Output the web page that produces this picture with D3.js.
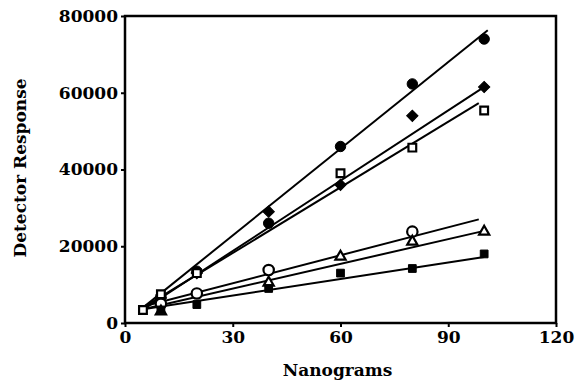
<!DOCTYPE html>
<html>
<head>
<meta charset="utf-8">
<script src="https://cdn.jsdelivr.net/npm/d3@7"></script>
<style>
  body { margin: 0; background: #fff; }
  text { font-family: "DejaVu Serif", serif; font-weight: bold; fill: #000; }
</style>
</head>
<body>
<svg id="chart"></svg>
<script>
const WIDTH = 577;
const HEIGHT = 381;
const PADDING_LEFT = 125; //room for y labels + title
const PADDING_TOP = 16;
const GRAPH_WIDTH = 431; //0..120
const GRAPH_HEIGHT = 307; //0..80000

// data
const nanograms = [5, 10, 20, 40, 60, 80, 100];
const filledCircle = [null, 7000, 13500, 26000, 46000, 62300, 74000];
const filledDiamond = [null, 6500, 13000, 29000, 36000, 54000, 61500];
const openSquare = [3400, 7500, 13000, null, 39000, 45700, 55400];
const openCircle = [null, 5000, 7700, 13800, null, 23800, null];
const openTriangle = [null, 3000, null, 10500, 17300, 21200, 23800];
const filledSquare = [null, 3400, 4800, 9000, 13000, 14200, 18000];

// fitted lines, [x, y] end points
const fitCircle = [[5, 4000], [101, 76300]];
const fitDiamond = [[5, 3500], [99.5, 61200]];
const fitSquare = [[5, 4000], [98.5, 57300]];
const fitOpenCircle = [[5, 4300], [98.5, 27000]];
const fitTriangle = [[5, 3600], [100, 24000]];
const fitFilledSquare = [[5, 3600], [100, 17200]];

const xTicks = [0, 30, 60, 90, 120];
const yTicks = [0, 20000, 40000, 60000, 80000];

const series = [
  {vals: filledCircle, fit: fitCircle, shape: "circle", filled: true},
  {vals: filledDiamond, fit: fitDiamond, shape: "diamond", filled: true},
  {vals: openSquare, fit: fitSquare, shape: "square", filled: false},
  {vals: openCircle, fit: fitOpenCircle, shape: "circle", filled: false},
  {vals: openTriangle, fit: fitTriangle, shape: "triangle", filled: false},
  {vals: filledSquare, fit: fitFilledSquare, shape: "square", filled: true}
];

var xScale = d3.scaleLinear().domain([0, 120]).range([0, GRAPH_WIDTH]);
var yScale = d3.scaleLinear().domain([0, 80000]).range([GRAPH_HEIGHT, 0]);

var svg = d3.select("#chart").attr("width", WIDTH).attr("height", HEIGHT);
var g = svg.append("g").attr("transform", "translate(" + PADDING_LEFT + "," + PADDING_TOP + ")");

// frame
g.append("rect")
  .attr("width", GRAPH_WIDTH).attr("height", GRAPH_HEIGHT)
  .attr("fill", "none").attr("stroke", "#000").attr("stroke-width", 2.5);

var xAxis = d3.axisBottom(xScale).tickValues(xTicks).tickSize(4).tickPadding(4);
var yAxis = d3.axisLeft(yScale).tickValues(yTicks).tickSize(4).tickPadding(3).tickFormat(d3.format("d"));

var gx = g.append("g").attr("transform", "translate(0," + GRAPH_HEIGHT + ")").call(xAxis);
var gy = g.append("g").call(yAxis);
[gx, gy].forEach(a => {
  a.select(".domain").remove();
  a.selectAll("line").attr("stroke", "#000").attr("stroke-width", 2);
  a.selectAll("text").style("font-size", "17px").style("font-family", "DejaVu Serif").style("font-weight", "bold");
});

// fit lines
var line = d3.line().x(d => xScale(d[0])).y(d => yScale(d[1]));
g.selectAll(".fit")
  .data(series)
  .enter().append("path")
  .attr("class", "fit")
  .attr("d", d => line(d.fit))
  .attr("fill", "none").attr("stroke", "#000").attr("stroke-width", 2);

// markers (diamond = square turned 45deg, like the original)
var symbolType = {circle: d3.symbolCircle, diamond: d3.symbolSquare, square: d3.symbolSquare, triangle: d3.symbolTriangle};
var symbolSize = {circle: 85, diamond: 64, square: 60, triangle: 45};
series.forEach(s => {
  var pts = nanograms.map((x, i) => [x, s.vals[i]]).filter(p => p[1] != null);
  g.selectAll(null)
    .data(pts)
    .enter().append("path")
    .attr("transform", d => "translate(" + xScale(d[0]) + "," + yScale(d[1]) + ")" + (s.shape == "diamond" ? " rotate(45)" : ""))
    .attr("d", d3.symbol().type(symbolType[s.shape]).size(symbolSize[s.shape]))
    .attr("fill", s.filled ? "#000" : "#fff")
    .attr("stroke", "#000")
    .attr("stroke-width", s.filled ? 1 : 2.2);
});

// axis titles
svg.append("text")
  .attr("x", PADDING_LEFT + xScale(60) - 3).attr("y", 376)
  .attr("text-anchor", "middle").style("font-size", "17px")
  .text("Nanograms");

svg.append("text")
  .attr("transform", "rotate(-90)")
  .attr("x", -168).attr("y", 26)
  .attr("text-anchor", "middle").style("font-size", "17px")
  .text("Detector Response");
</script>
</body>
</html>
